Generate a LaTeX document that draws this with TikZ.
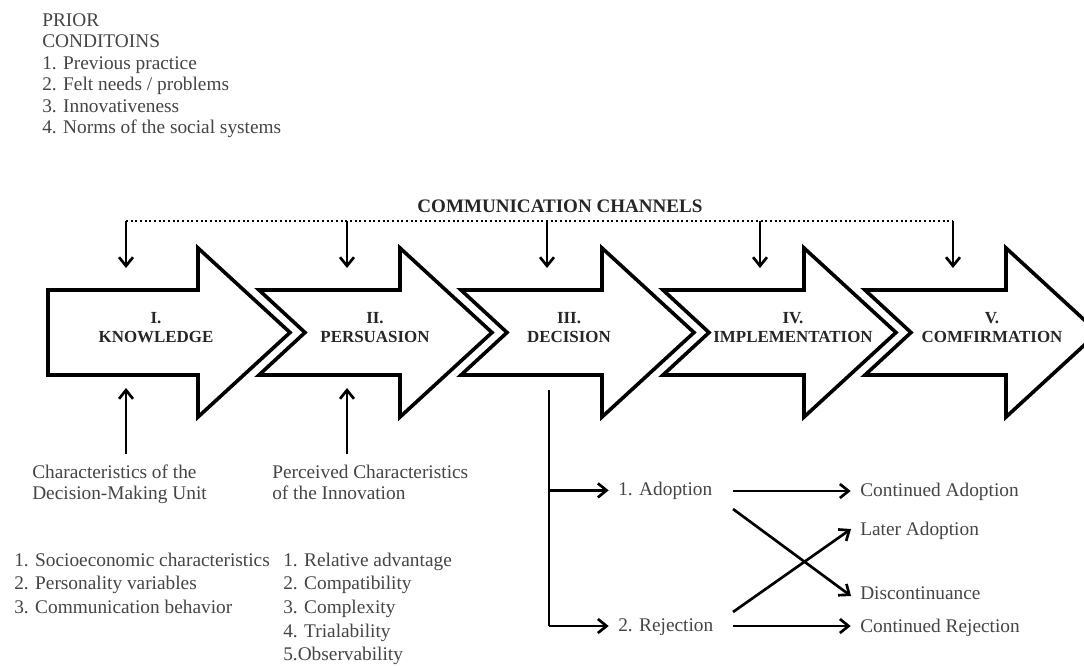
\documentclass[tikz,border=0pt]{standalone}
\usepackage{fontspec}
\setmainfont{Liberation Serif}
\usetikzlibrary{arrows.meta}
\definecolor{txtgray}{gray}{0.27}
\begin{document}
\begin{tikzpicture}[x=0.75pt,y=-0.75pt,
  bigarrow/.style={draw=black,line width=2.7pt,fill=white,line join=miter,miter limit=20},
  stagelbl/.style={font=\fontsize{12.7}{14}\selectfont\bfseries,text=black!85,inner sep=0,anchor=base},
  txt/.style={font=\fontsize{14.5}{16}\selectfont,text=txtgray,inner sep=0,anchor=base west},
  conn/.style={line width=2pt,-{Straight Barb[length=6.5pt,width=10.5pt,line width=2pt]}},
  plainline/.style={line width=2pt},
  chan/.style={line width=1.5pt,dotted}
]
\useasboundingbox (0,0) rectangle (1084,665);
\fill[white] (0,0) rectangle (1084,665);

% ---------- stage arrows ----------
\begin{scope}
\clip (0,0) rectangle (1084,665);
\draw[bigarrow] (48,290) -- (198,290) -- (198,248) -- (290,332.5) -- (198,417) -- (198,375) -- (48,375) -- cycle;
\foreach \i in {1,...,4} {
  \pgfmathsetmacro\xt{259+202*(\i-1)}
  \pgfmathsetmacro\xh{198+202*\i}
  \draw[bigarrow] (\xt,290) -- (\xh,290) -- (\xh,248) -- (\xh+92,332.5) -- (\xh,417) -- (\xh,375) -- (\xt,375) -- (\xt+46,332.5) -- cycle;
}
\end{scope}

% ---------- stage labels ----------
\node[stagelbl] (n1) at (156,323.6) {I.};
\node[stagelbl] (s1) at (156,342.6) {KNOWLEDGE};
\node[stagelbl] (n2) at (375,323.6) {II.};
\node[stagelbl] (s2) at (375,342.6) {PERSUASION};
\node[stagelbl] (n3) at (569,323.6) {III.};
\node[stagelbl] (s3) at (569,342.6) {DECISION};
\node[stagelbl] (n4) at (793,323.6) {IV.};
\node[stagelbl] (s4) at (793,342.6) {IMPLEMENTATION};
\node[stagelbl] (n5) at (992,323.6) {V.};
\node[stagelbl] (s5) at (992,342.6) {COMFIRMATION};

% ---------- prior conditions ----------
\node[txt] (pc1) at (42,26.5) {PRIOR};
\node[txt] (pc2) at (42,47.9) {CONDITOINS};
\node[txt] (pc3) at (42,69.3) {1. Previous practice};
\node[txt] (pc4) at (42,90.7) {2. Felt needs / problems};
\node[txt] (pc5) at (42,112.1) {3. Innovativeness};
\node[txt] (pc6) at (42,133.5) {4. Norms of the social systems};

% ---------- communication channels ----------
\node[font=\fontsize{14.3}{16}\selectfont\bfseries,text=black!85,inner sep=0,anchor=base] (cc) at (560,212) {COMMUNICATION CHANNELS};
\coordinate (c1) at (126,221);
\coordinate (c2) at (347,221);
\coordinate (c3) at (547,221);
\coordinate (c4) at (760,221);
\coordinate (c5) at (953,221);
\draw[chan] (c1) -- (c5);
\foreach \k in {1,...,5} \draw[conn] (c\k) -- ++(0,47);

% ---------- characteristics ----------
\node[txt] (dm1) at (32,478) {Characteristics of the};
\node[txt] (dm2) at (32,499) {Decision-Making Unit};
\node[txt] (pi1) at (272,478) {Perceived Characteristics};
\node[txt] (pi2) at (272,499) {of the Innovation};
\coordinate (u1) at (126,454);
\coordinate (u2) at (347,454);
\draw[conn] (u1) -- ++(0,-66);
\draw[conn] (u2) -- ++(0,-66);

\node[txt] (l11) at (14,566) {1. Socioeconomic characteristics};
\node[txt] (l12) at (14,589.7) {2. Personality variables};
\node[txt] (l13) at (14,613.4) {3. Communication behavior};

\node[txt] (l21) at (283,566) {1. Relative advantage};
\node[txt] (l22) at (283,589.7) {2. Compatibility};
\node[txt] (l23) at (283,613.4) {3. Complexity};
\node[txt] (l24) at (283,637.1) {4. Trialability};
\node[txt] (l25) at (283,660.8) {5.Observability};

% ---------- decision outcomes ----------
\node[txt] (adopt) at (618,495) {1. Adoption};
\node[txt] (reject) at (618,631) {2. Rejection};
\node[txt] (contad) at (860,496) {Continued Adoption};
\node[txt] (later) at (860,535) {Later Adoption};
\node[txt] (disc) at (860,599) {Discontinuance};
\node[txt] (contrej) at (860,632) {Continued Rejection};

\coordinate (dtop) at (549,390);
\coordinate (dbot) at (549,626);
\draw[plainline] (dtop) -- (dbot);
\draw[conn] (dtop |- adopt.west) -- ([xshift=-7pt]adopt.west);
\draw[conn] (dbot) -- ([xshift=-7pt]dbot -| reject.west);

\coordinate (a1) at (733,491);
\coordinate (a2) at (733,509);
\coordinate (r1) at (733,626);
\coordinate (r2) at (733,612);
\draw[conn] (a1) -- ([xshift=-7pt]a1 -| contad.west);
\draw[conn] (r1) -- ([xshift=-7pt]r1 -| contrej.west);
\draw[conn] (a2) -- (851,596);
\draw[conn] (r2) -- (851,529);
\end{tikzpicture}
\end{document}
